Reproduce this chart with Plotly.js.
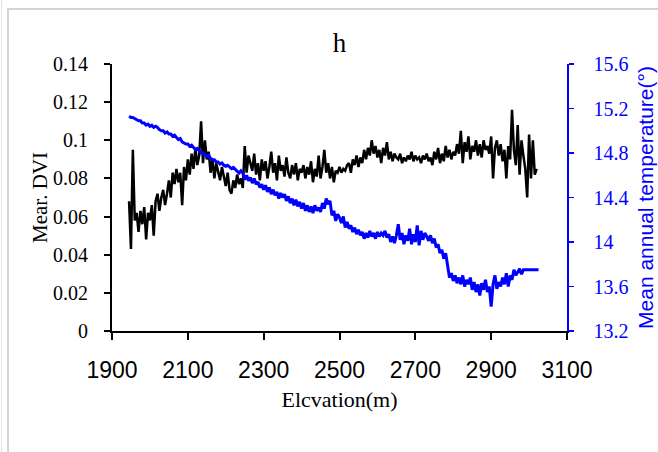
<!DOCTYPE html>
<html>
<head>
<meta charset="utf-8">
<script src="https://cdn.plot.ly/plotly-3.0.1.min.js"></script>
<style>
  html, body { margin: 0; padding: 0; background: #fff; }
  #wrap { position: relative; width: 658px; height: 452px; overflow: hidden; }
  #chart { width: 658px; height: 452px; }
  #frame { position: absolute; left: 7px; top: 8px; width: 700px; height: 500px;
           border-left: 2px solid #d4d4d4; border-top: 2px solid #d4d4d4; pointer-events: none; }
  #edge { position: absolute; left: 1px; top: 0; width: 1px; height: 452px; background: #e2e2e2; pointer-events: none; }
</style>
</head>
<body>
<div id="wrap">
  <div id="chart"></div>
  <div id="frame"></div>
  <div id="edge"></div>
</div>
<script>
// Elevation (m), one sample every 5 m
const elevation = [
  1945,1950,1955,1960,1965,1970,1975,1980,1985,1990,
  1995,2000,2005,2010,2015,2020,2025,2030,2035,2040,
  2045,2050,2055,2060,2065,2070,2075,2080,2085,2090,
  2095,2100,2105,2110,2115,2120,2125,2130,2135,2140,
  2145,2150,2155,2160,2165,2170,2175,2180,2185,2190,
  2195,2200,2205,2210,2215,2220,2225,2230,2235,2240,
  2245,2250,2255,2260,2265,2270,2275,2280,2285,2290,
  2295,2300,2305,2310,2315,2320,2325,2330,2335,2340,
  2345,2350,2355,2360,2365,2370,2375,2380,2385,2390,
  2395,2400,2405,2410,2415,2420,2425,2430,2435,2440,
  2445,2450,2455,2460,2465,2470,2475,2480,2485,2490,
  2495,2500,2505,2510,2515,2520,2525,2530,2535,2540,
  2545,2550,2555,2560,2565,2570,2575,2580,2585,2590,
  2595,2600,2605,2610,2615,2620,2625,2630,2635,2640,
  2645,2650,2655,2660,2665,2670,2675,2680,2685,2690,
  2695,2700,2705,2710,2715,2720,2725,2730,2735,2740,
  2745,2750,2755,2760,2765,2770,2775,2780,2785,2790,
  2795,2800,2805,2810,2815,2820,2825,2830,2835,2840,
  2845,2850,2855,2860,2865,2870,2875,2880,2885,2890,
  2895,2900,2905,2910,2915,2920,2925,2930,2935,2940,
  2945,2950,2955,2960,2965,2970,2975,2980,2985,2990,
  2995,3000,3005,3010,3015,3020,3025
];

// Mean DVI (left axis)
const meanDVI = [
  0.068,0.043,0.095,0.058,0.062,0.052,0.063,0.056,0.065,0.048,
  0.062,0.058,0.066,0.050,0.068,0.072,0.063,0.070,0.074,0.066,
  0.072,0.079,0.070,0.083,0.077,0.085,0.078,0.083,0.066,0.086,
  0.079,0.090,0.082,0.093,0.085,0.096,0.087,0.092,0.110,0.088,
  0.100,0.090,0.094,0.083,0.090,0.080,0.088,0.084,0.079,0.086,
  0.080,0.076,0.083,0.074,0.072,0.079,0.075,0.082,0.077,0.080,
  0.075,0.097,0.083,0.092,0.088,0.084,0.093,0.082,0.088,0.079,
  0.090,0.084,0.089,0.080,0.086,0.094,0.083,0.088,0.079,0.092,
  0.084,0.087,0.081,0.091,0.083,0.080,0.087,0.082,0.088,0.079,
  0.085,0.083,0.087,0.080,0.086,0.082,0.089,0.078,0.085,0.081,
  0.092,0.080,0.086,0.095,0.083,0.088,0.080,0.086,0.078,0.084,
  0.083,0.086,0.083,0.085,0.084,0.087,0.088,0.083,0.090,0.087,
  0.092,0.086,0.091,0.088,0.095,0.090,0.096,0.092,0.100,0.093,
  0.097,0.091,0.095,0.088,0.096,0.092,0.099,0.090,0.094,0.089,
  0.093,0.091,0.090,0.093,0.088,0.091,0.089,0.092,0.090,0.094,
  0.089,0.092,0.090,0.091,0.088,0.092,0.090,0.093,0.089,0.091,
  0.087,0.094,0.090,0.096,0.088,0.093,0.089,0.097,0.091,0.095,
  0.090,0.094,0.092,0.098,0.093,0.105,0.088,0.099,0.094,0.102,
  0.090,0.097,0.094,0.100,0.092,0.098,0.091,0.100,0.095,0.097,
  0.093,0.102,0.080,0.096,0.100,0.092,0.098,0.089,0.095,0.080,
  0.097,0.090,0.116,0.095,0.087,0.108,0.082,0.100,0.092,0.085,
  0.070,0.103,0.080,0.100,0.082,0.085,null
];

// Mean annual temperature (right axis)
const meanTemp = [
  15.13,15.12,15.12,15.11,15.10,15.09,15.09,15.07,15.07,15.05,
  15.06,15.04,15.05,15.03,15.04,15.03,15.01,15.00,15.00,14.98,
  14.99,14.97,14.97,14.95,14.96,14.94,14.92,14.93,14.90,14.89,
  14.88,14.88,14.86,14.87,14.85,14.83,14.84,14.82,14.80,14.80,
  14.78,14.77,14.78,14.75,14.74,14.74,14.72,14.72,14.70,14.71,
  14.69,14.68,14.69,14.67,14.66,14.67,14.65,14.64,14.62,14.64,
  14.62,14.56,14.60,14.55,14.58,14.53,14.57,14.52,14.54,14.49,
  14.52,14.47,14.51,14.45,14.49,14.43,14.47,14.42,14.45,14.39,
  14.44,14.40,14.43,14.37,14.41,14.35,14.39,14.33,14.38,14.32,
  14.36,14.30,14.35,14.28,14.33,14.27,14.32,14.26,14.33,14.28,
  14.31,14.27,14.35,14.30,14.39,14.34,14.37,14.24,14.28,14.19,
  14.25,14.22,14.17,14.23,14.13,14.18,14.12,14.15,14.09,14.13,
  14.07,14.11,14.06,14.09,14.03,14.08,14.04,14.10,14.05,14.08,
  14.03,14.09,14.05,14.08,14.06,14.10,14.04,14.07,14.00,14.05,
  13.99,14.06,14.16,14.02,14.08,13.98,14.06,14.01,14.12,13.98,
  14.07,14.00,14.15,13.97,14.10,14.02,14.08,14.05,14.01,14.06,
  13.99,14.03,13.95,13.98,13.90,13.93,13.85,13.90,13.80,13.68,
  13.72,13.65,13.70,13.63,13.68,13.62,13.70,13.60,13.66,13.62,
  13.68,13.57,13.64,13.55,13.62,13.52,13.63,13.57,13.66,13.55,
  13.60,13.42,13.62,13.70,13.58,13.64,13.60,13.68,13.62,13.72,
  13.60,13.70,13.66,13.75,13.70,13.73,13.76,13.71,13.75,13.75,
  13.75,13.75,13.75,13.75,13.75,13.75,13.75
];

const xTickVals = [1900, 2100, 2300, 2500, 2700, 2900, 3100];
const xTickText = ['1900', '2100', '2300', '2500', '2700', '2900', '3100'];
const yTickVals = [0, 0.02, 0.04, 0.06, 0.08, 0.1, 0.12, 0.14];
const yTickText = ['0', '0.02', '0.04', '0.06', '0.08', '0.1', '0.12', '0.14'];
const y2TickVals = [13.2, 13.6, 14.0, 14.4, 14.8, 15.2, 15.6];
const y2TickText = ['13.2', '13.6', '14', '14.4', '14.8', '15.2', '15.6'];

const serif = '"Liberation Serif", "Times New Roman", serif';
const sans = '"Liberation Sans", Arial, sans-serif';

const traces = [
  {
    x: elevation, y: meanDVI, type: 'scatter', mode: 'lines',
    line: { color: '#000000', width: 2.5 }, yaxis: 'y', showlegend: false,
    connectgaps: false
  },
  {
    x: elevation, y: meanTemp, type: 'scatter', mode: 'lines',
    line: { color: '#0000ff', width: 3 }, yaxis: 'y2', showlegend: false
  }
];

const layout = {
  width: 658, height: 452,
  margin: { l: 112, r: 91, t: 64, b: 121, pad: 0 },
  paper_bgcolor: '#ffffff', plot_bgcolor: '#ffffff',
  showlegend: false,
  title: { text: 'h', font: { family: serif, size: 27, color: '#000' },
           x: 0.516, xanchor: 'center', y: 0.905, yanchor: 'middle' },
  xaxis: {
    range: [1900, 3100], tickmode: 'array', tickvals: xTickVals, ticktext: xTickText,
    showgrid: false, zeroline: false, showline: true, linecolor: '#000', linewidth: 2,
    ticks: 'outside', ticklen: 7, tickwidth: 2, tickcolor: '#000',
    ticklabelstandoff: 10,
    tickfont: { family: sans, size: 23, color: '#000' },
    title: { text: 'Elcvation(m)', font: { family: serif, size: 22, color: '#000' }, standoff: 10 },
    automargin: false
  },
  yaxis: {
    range: [0, 0.14], tickmode: 'array', tickvals: yTickVals, ticktext: yTickText,
    showgrid: false, zeroline: false, showline: true, linecolor: '#000', linewidth: 2,
    ticks: 'outside', ticklen: 6, tickwidth: 2, tickcolor: '#000',
    ticklabelstandoff: 12,
    tickfont: { family: serif, size: 20, color: '#000' },
    title: { text: 'Mear. DVI', font: { family: serif, size: 21, color: '#000' }, standoff: 0 },
    automargin: false
  },
  yaxis2: {
    range: [13.2, 15.6], tickmode: 'array', tickvals: y2TickVals, ticktext: y2TickText,
    overlaying: 'y', side: 'right',
    showgrid: false, zeroline: false, showline: true, linecolor: '#0000ff', linewidth: 1.5,
    ticks: 'outside', ticklen: 5, tickwidth: 1.5, tickcolor: '#0000ff',
    ticklabelstandoff: 16,
    tickfont: { family: serif, size: 20, color: '#0000ff' },
    title: { text: 'Mean annual temperature(°)', font: { family: sans, size: 21, color: '#0000ff' }, standoff: 11 },
    automargin: false
  }
};

Plotly.newPlot('chart', traces, layout, { staticPlot: true, displayModeBar: false });
</script>
</body>
</html>
